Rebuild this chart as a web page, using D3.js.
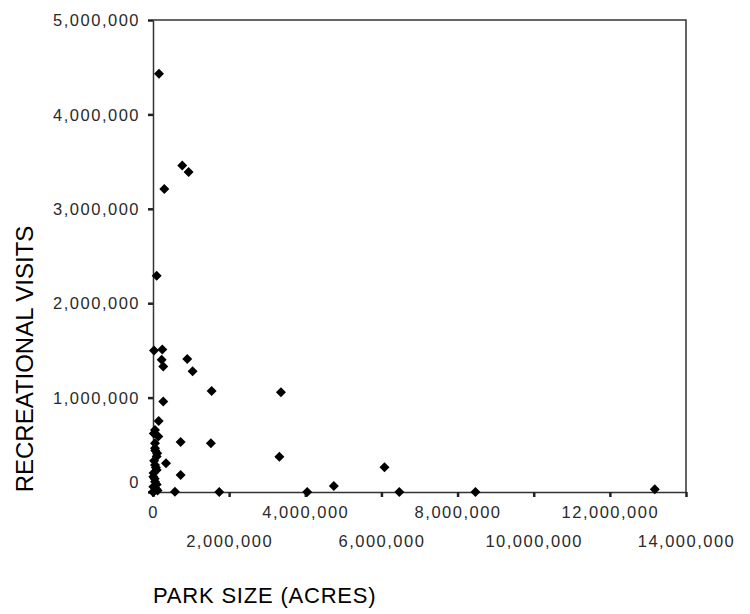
<!DOCTYPE html>
<html>
<head>
<meta charset="utf-8">
<script src="https://cdn.jsdelivr.net/npm/d3@7"></script>
<style>
  body { margin: 0; background: #fff; }
  text { font-family: "Liberation Sans", Arial, sans-serif; fill: #2a2a2a; }
</style>
</head>
<body>
<svg id="canvas"></svg>
<script>
const WIDTH = 750;
const HEIGHT = 614;

// park size (acres) vs recreational visits
const acres = [
    157000, 297000, 768000, 935000, 97000,
    26000, 244000, 228000, 270000, 900000, 1040000, 1540000, 270000,
    149000, 52000, 139000, 52000, 726000, 1520000, 52000, 97000, 341000,
    52000, 97000, 726000, 8000, 52000, 8000, 97000, 0, 577000, 1740000,
    3360000, 3320000, 4050000, 4750000, 6080000, 6470000, 8470000, 13180000,
    20000, 60000, 110000, 30000, 75000, 15000, 45000, 90000, 35000, 120000
];
const visits = [
    4430000, 3210000, 3460000, 3390000, 2290000,
    1500000, 1510000, 1400000, 1330000, 1410000, 1280000, 1070000, 958000,
    753000, 657000, 587000, 516000, 530000, 516000, 463000, 375000, 304000,
    286000, 233000, 180000, 162000, 109000, 56000, 80000, 0, 3000, 0,
    1057000, 374000, 0, 64000, 262000, 0, 0, 28000,
    620000, 440000, 410000, 330000, 260000, 200000, 140000, 30000, 10000, 15000
];

const xTicks = [0, 2000000, 4000000, 6000000, 8000000, 10000000, 12000000, 14000000];
const yTicks = [0, 1000000, 2000000, 3000000, 4000000, 5000000];

const xDomain = [0, 14000000];
const yDomain = [0, 5000000];

const plotLeft = 153, plotRight = 686, plotTop = 20, plotBottom = 492;

const scaleX = d3.scaleLinear(xDomain, [plotLeft, plotRight]);
const scaleY = d3.scaleLinear(yDomain, [plotBottom, plotTop]);
const fmt = d3.format(",");

const canvas = d3.select('#canvas')
    .attr("width", WIDTH)
    .attr("height", HEIGHT);

// frame (top and right edge)
canvas.append('path')
    .attr('d', `M${scaleX(xDomain[0])},${scaleY(yDomain[1])}H${scaleX(xDomain[1])}V${scaleY(yDomain[0])}`)
    .attr('fill', 'none')
    .attr('stroke', '#333')
    .attr('stroke-width', 1.5);

// x axis - labels alternate between two rows
const xAxis = canvas.append('g')
    .attr('transform', `translate(0, ${plotBottom})`)
    .call(d3.axisBottom(scaleX).tickValues(xTicks).tickSize(5).tickSizeOuter(0).tickFormat(fmt));
xAxis.select('.domain').attr('stroke', '#333').attr('stroke-width', 1.5);
xAxis.selectAll('.tick line').attr('stroke', '#222').attr('stroke-width', 2.5);
xAxis.selectAll('.tick text')
    .attr('fill', '#2a2a2a')
    .style('font-size', '16.5px')
    .style('letter-spacing', '1.5px')
    .attr('dy', null)
    .attr('y', (d, i) => i % 2 === 0 ? 26 : 55);

// y axis
const yAxis = canvas.append('g')
    .attr('transform', `translate(${plotLeft}, 0)`)
    .call(d3.axisLeft(scaleY).tickValues(yTicks).tickSize(5).tickSizeOuter(0).tickFormat(fmt));
yAxis.select('.domain').attr('stroke', '#333').attr('stroke-width', 1.5);
yAxis.selectAll('.tick line').attr('stroke', '#222').attr('stroke-width', 2.5);
yAxis.selectAll('.tick text')
    .attr('fill', '#2a2a2a')
    .style('font-size', '16.5px')
    .style('letter-spacing', '1.5px')
    .attr('x', -13)
    .attr('dy', d => d === 0 ? '-0.25em' : '0.34em');

// axis titles
canvas.append('text')
    .attr('transform', 'translate(33, 359) rotate(-90)')
    .attr('text-anchor', 'middle')
    .style('font-size', '24px')
    .style('fill', '#000')
    .text('RECREATIONAL VISITS');

canvas.append('text')
    .attr('x', 153)
    .attr('y', 603)
    .style('font-size', '22px')
    .style('letter-spacing', '0.8px')
    .style('fill', '#000')
    .text('PARK SIZE (ACRES)');

// diamonds
const diamond = 'M0,-5L5,0L0,5L-5,0Z';
canvas.append('g')
    .selectAll('path')
    .data(d3.range(acres.length))
    .enter()
    .append('path')
    .attr('d', diamond)
    .attr('fill', '#000')
    .attr('transform', i => `translate(${scaleX(acres[i])}, ${scaleY(visits[i])})`);
</script>
</body>
</html>
